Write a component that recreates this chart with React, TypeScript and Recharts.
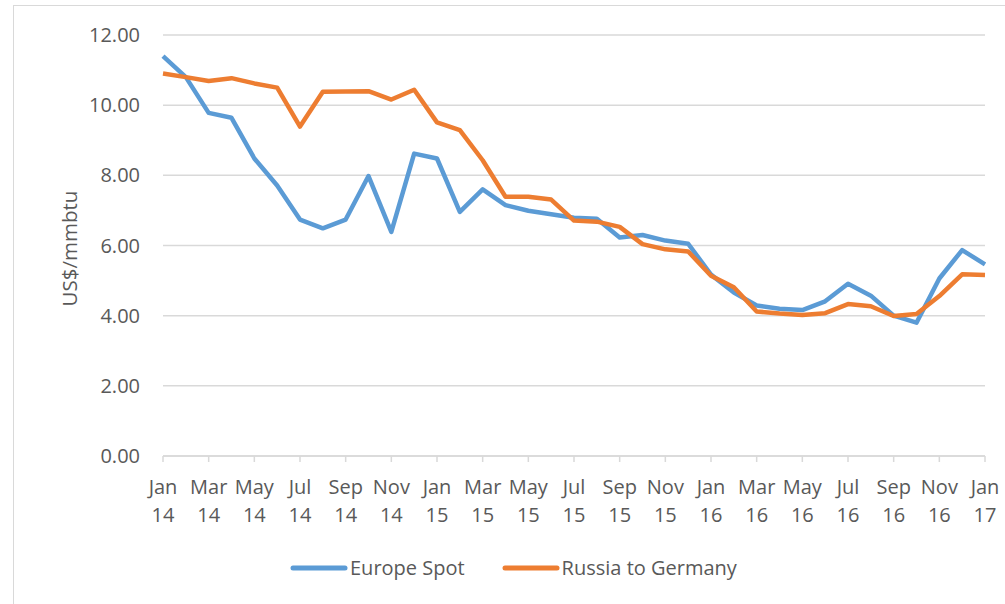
import React from 'react';
import {
  LineChart,
  Line,
  XAxis,
  YAxis,
  CartesianGrid,
  Legend,
} from 'recharts';

const months = [
  'Jan 14', 'Feb 14', 'Mar 14', 'Apr 14', 'May 14', 'Jun 14', 'Jul 14', 'Aug 14', 'Sep 14', 'Oct 14', 'Nov 14', 'Dec 14',
  'Jan 15', 'Feb 15', 'Mar 15', 'Apr 15', 'May 15', 'Jun 15', 'Jul 15', 'Aug 15', 'Sep 15', 'Oct 15', 'Nov 15', 'Dec 15',
  'Jan 16', 'Feb 16', 'Mar 16', 'Apr 16', 'May 16', 'Jun 16', 'Jul 16', 'Aug 16', 'Sep 16', 'Oct 16', 'Nov 16', 'Dec 16',
  'Jan 17',
];

const europeSpot = [
  11.4, 10.8, 9.78, 9.64, 8.48, 7.71, 6.74, 6.49, 6.74, 7.98, 6.39, 8.62,
  8.48, 6.96, 7.6, 7.15, 6.99, 6.89, 6.79, 6.76, 6.23, 6.3, 6.14, 6.05,
  5.17, 4.66, 4.29, 4.2, 4.16, 4.41, 4.91, 4.57, 4.0, 3.8, 5.06, 5.87,
  5.46,
];

const russiaToGermany = [
  10.9, 10.8, 10.69, 10.77, 10.62, 10.5, 9.39, 10.38, 10.39, 10.4, 10.16, 10.44,
  9.51, 9.29, 8.43, 7.39, 7.39, 7.31, 6.71, 6.68, 6.53, 6.04, 5.89, 5.83,
  5.14, 4.81, 4.12, 4.06, 4.02, 4.07, 4.33, 4.27, 3.99, 4.05, 4.56, 5.18,
  5.16,
];

const yTicks = [0, 2, 4, 6, 8, 10, 12];

const data = months.map((m, i) => ({
  month: m,
  europe: europeSpot[i],
  russia: russiaToGermany[i],
}));

const FONT = '"Open Sans", sans-serif';
const TEXT = '#595959';
const GRID = '#d9d9d9';
const BLUE = '#5b9bd5';
const ORANGE = '#ed7d31';

// two-line month label: "Jan" over "14"
const MonthTick = ({ x, y, payload }: any) => {
  const [m, yr] = String(payload.value).split(' ');
  return (
    <g transform={`translate(${x},${y})`}>
      <text textAnchor="middle" fill={TEXT} fontSize={20} fontFamily={FONT}>
        <tspan x={0} y={29.5}>{m}</tspan>
        <tspan x={0} y={57.5}>{yr}</tspan>
      </text>
    </g>
  );
};

const LegendContent = () => {
  const items = [
    { name: 'Europe Spot', color: BLUE },
    { name: 'Russia to Germany', color: ORANGE },
  ];
  return (
    <div
      style={{
        height: 50,
        display: 'flex',
        alignItems: 'flex-start',
        paddingLeft: 290,
        fontFamily: FONT,
        fontSize: 20,
        color: TEXT,
        lineHeight: '28px',
      }}
    >
      {items.map((it, idx) => (
        <span
          key={it.name}
          style={{ display: 'flex', alignItems: 'center', marginRight: idx === 0 ? 37 : 0 }}
        >
          <svg width={58} height={10} style={{ marginRight: 2 }}>
            <line
              x1={3}
              y1={5}
              x2={55}
              y2={5}
              stroke={it.color}
              strokeWidth={5}
              strokeLinecap="round"
            />
          </svg>
          {it.name}
        </span>
      ))}
    </div>
  );
};

export default function App() {
  return (
    <div style={{ position: 'absolute', left: 0, top: 0, width: 1005, height: 604, background: '#fff', overflow: 'hidden' }}>
      <div
        style={{
          position: 'absolute',
          left: 13,
          top: 5,
          width: 1010,
          height: 640,
          border: `1px solid ${GRID}`,
        }}
      />
      <div style={{ position: 'absolute', left: 0, top: 0 }}>
        <LineChart
          width={1005}
          height={604}
          data={data}
          margin={{ top: 35, right: 20, bottom: 0, left: 0 }}
        >
          <CartesianGrid stroke={GRID} strokeWidth={1.5} vertical={false} />
          <XAxis
            dataKey="month"
            interval={1}
            height={98}
            tick={<MonthTick />}
            tickSize={6}
            axisLine={{ stroke: GRID, strokeWidth: 1.5 }}
            tickLine={{ stroke: GRID, strokeWidth: 1.5 }}
          />
          <YAxis
            domain={[0, 12]}
            ticks={yTicks}
            width={163}
            axisLine={false}
            tickLine={false}
            tickSize={6}
            tickMargin={17}
            tickFormatter={(v: number) => v.toFixed(2)}
            tick={{ fill: TEXT, fontSize: 20, fontFamily: FONT }}
            label={{
              value: 'US$/mmbtu',
              angle: -90,
              position: 'center',
              dx: -12,
              dy: 3,
              style: { fill: TEXT, fontSize: 20.5, fontFamily: FONT, textAnchor: 'middle' },
            }}
          />
          <Legend verticalAlign="bottom" content={<LegendContent />} wrapperStyle={{ left: 0, width: 1005 }} />
          <Line
            type="linear"
            dataKey="europe"
            name="Europe Spot"
            stroke={BLUE}
            strokeWidth={4.5}
            strokeLinejoin="round"
            dot={false}
            isAnimationActive={false}
          />
          <Line
            type="linear"
            dataKey="russia"
            name="Russia to Germany"
            stroke={ORANGE}
            strokeWidth={4.5}
            strokeLinejoin="round"
            dot={false}
            isAnimationActive={false}
          />
        </LineChart>
      </div>
    </div>
  );
}
